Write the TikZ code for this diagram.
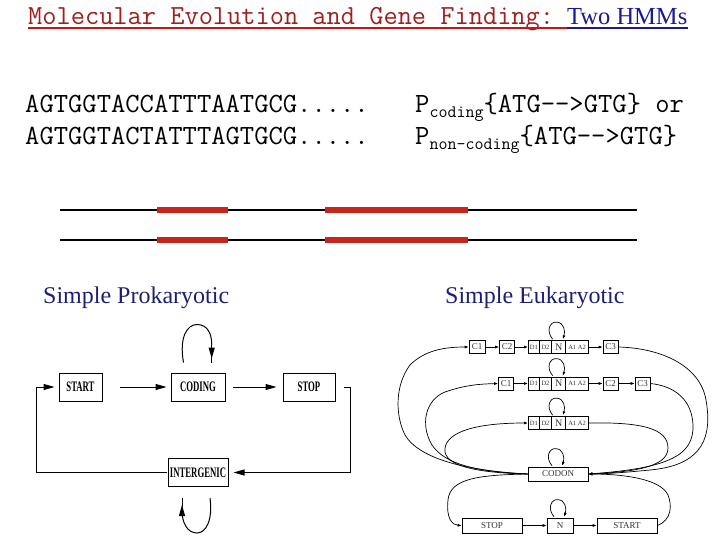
\documentclass[tikz,border=0pt]{standalone}
\usepackage{fontspec}
\usepackage{graphicx}
\setmainfont{Liberation Serif}
\usetikzlibrary{arrows.meta,calc}
\definecolor{tred}{RGB}{160,30,28}
\definecolor{ured}{RGB}{205,20,20}
\definecolor{tblue}{RGB}{26,26,150}
\definecolor{navy}{RGB}{30,30,115}
\definecolor{barred}{RGB}{200,38,26}
\newcommand\plab[1]{\scalebox{0.6}[1]{\fontsize{14.5}{14.5}\selectfont\bfseries #1}}
\newcommand\mtt{\fontsize{27.8}{30}\selectfont\ttfamily}
\newcommand\ttl{\fontsize{27.6}{30}\selectfont\ttfamily}
\newcommand\msub{\fontsize{17.5}{18}\selectfont\ttfamily}
\begin{document}
\begin{tikzpicture}[x=1pt,y=-1pt,
  txt/.style={inner sep=0pt,anchor=base west},
  pbox/.style={draw,line width=1pt,inner sep=0pt,minimum height=28pt},
  pline/.style={line width=1pt},
  parr/.style={line width=1pt,-{Triangle[length=11pt,width=6pt]}},
  ebox/.style={draw,line width=0.6pt,inner sep=0pt,minimum height=13pt,text=black!80,font=\fontsize{9}{9}\selectfont},
  sbox/.style={ebox,font=\fontsize{6.5}{6.5}\selectfont},
  eline/.style={line width=0.7pt},
  earr/.style={line width=0.7pt,-{Latex[length=4pt,width=3pt]}}
]
\useasboundingbox (0,0) rectangle (720,540);

% title
\node[txt,text=tred] (t1) at (28,25) {\ttl Molecular Evolution and Gene Finding:};
\node[txt,text=tblue] (t2) at (567,25) {\fontsize{24.5}{26}\selectfont Two HMMs};
\draw[ured,line width=2pt] ([yshift=-3pt]t1.base west) -- ([yshift=-3pt]t2.base west);
\draw[tblue,line width=2pt] ([yshift=-3pt]t2.base west) -- ([yshift=-3pt]t2.base east);

% sequences
\node[txt] (s1) at (25,113) {\mtt AGTGGTACCATTTAATGCG.....};
\node[txt] (s2) at (25,145) {\mtt AGTGGTACTATTTAGTGCG.....};
\node[txt] (p1) at (415,113) {\mtt P\raisebox{-5pt}{\msub coding}\{ATG-{}-{}>GTG\} or};
\node[txt] (p2) at (415,145) {\mtt P\raisebox{-5pt}{\msub non-coding}\{ATG-{}-{}>GTG\}};

% gene lines
\coordinate (l1a) at (60,210); \coordinate (l1b) at (637,210);
\coordinate (l2a) at (60,240); \coordinate (l2b) at (637,240);
\draw[line width=1.2pt] (l1a) -- (l1b);
\draw[line width=1.2pt] (l2a) -- (l2b);
\foreach \yy in {210,240}{
  \draw[barred,line width=6pt] (157,\yy) -- (228,\yy);
  \draw[barred,line width=6pt] (325,\yy) -- (468,\yy);
}

% headings
\node[txt,text=navy] (h1) at (43,303) {\fontsize{24}{26}\selectfont Simple Prokaryotic};
\node[txt,text=navy] (h2) at (445,303) {\fontsize{24}{26}\selectfont Simple Eukaryotic};

% prokaryotic HMM
\node[pbox,minimum width=43pt] (pstart) at (80.5,387) {\plab{START}};
\node[pbox,minimum width=54pt] (pcod) at (198,387) {\plab{CODING}};
\node[pbox,minimum width=52pt] (pstop) at (309,387) {\plab{STOP}};
\node[pbox,minimum width=60pt] (pint) at (198,472.5) {\plab{INTERGENIC}};
\draw[parr,shorten <=17pt,shorten >=4pt] (pstart.east) -- (pcod.west);
\draw[parr,shorten <=7pt,shorten >=6pt] (pcod.east) -- (pstop.west);
\draw[parr] ([xshift=8pt]pstop.east) -- ++(7,0) |- ([xshift=5pt]pint.east);
\draw[parr] ([xshift=-1pt]pint.west) -- (36,472.5) |- ([xshift=-4pt]pstart.west);
% self loops
\draw[pline] ($(pcod.north)+(-14.5,-10)$) .. controls ($(pcod.north)+(-19,-35)$) and ($(pcod.north)+(-11,-48)$) .. ($(pcod.north)+(-1,-48)$)
  .. controls ($(pcod.north)+(10,-48)$) and ($(pcod.north)+(14,-38)$) .. ($(pcod.north)+(13.7,-27)$);
\draw[parr] ($(pcod.north)+(13.7,-30)$) -- ($(pcod.north)+(13.7,-14)$);
\draw[pline] ($(pcod.north)+(13.7,-16)$) -- ($(pcod.north)+(13.7,-10)$);
\draw[pline] ($(pint.south)+(12,11)$) .. controls ($(pint.south)+(15,33)$) and ($(pint.south)+(8,46)$) .. ($(pint.south)+(-1,46)$)
  .. controls ($(pint.south)+(-11,46)$) and ($(pint.south)+(-16,35)$) .. ($(pint.south)+(-16,24)$);
\draw[parr] ($(pint.south)+(-16,27)$) -- ($(pint.south)+(-16,18)$);
\draw[pline] ($(pint.south)+(-16,20)$) -- ($(pint.south)+(-16,11)$);

% eukaryotic HMM
% row 1
\node[ebox,minimum width=16pt] (c11) at (477,347) {C1};
\node[ebox,minimum width=15pt] (c12) at (507,347) {C2};
\node[sbox,minimum width=11pt] (d11) at (533.8,347) {D1};
\node[sbox,minimum width=12.4pt] (d12) at (545.5,347) {D2};
\node[ebox,minimum width=14pt,font=\fontsize{10}{10}\selectfont] (n1) at (558.7,347) {N};
\node[sbox,minimum width=22.6pt] (a1) at (577,347) {A1 A2};
\node[ebox,minimum width=15pt] (c13) at (610.5,347) {C3};
% row 2
\node[ebox,minimum width=15pt] (c21) at (506,383.5) {C1};
\node[sbox,minimum width=11pt] (d21) at (533.8,383.5) {D1};
\node[sbox,minimum width=12.4pt] (d22) at (545.5,383.5) {D2};
\node[ebox,minimum width=14pt,font=\fontsize{10}{10}\selectfont] (n2) at (558.7,383.5) {N};
\node[sbox,minimum width=22.6pt] (a2) at (577,383.5) {A1 A2};
\node[ebox,minimum width=15pt] (c22) at (610.5,383.5) {C2};
\node[ebox,minimum width=15pt] (c23) at (642.5,383.5) {C3};
% row 3
\node[sbox,minimum width=11pt] (d31) at (533.8,423) {D1};
\node[sbox,minimum width=12.4pt] (d32) at (545.5,423) {D2};
\node[ebox,minimum width=14pt,font=\fontsize{10}{10}\selectfont] (n3) at (558.7,423) {N};
\node[sbox,minimum width=22.6pt] (a3) at (577,423) {A1 A2};
% codon and bottom row
\node[ebox,minimum width=60pt,minimum height=14pt] (codon) at (558,474) {CODON};
\node[ebox,minimum width=60pt,minimum height=15pt] (estop) at (492,525.5) {STOP};
\node[ebox,minimum width=26pt,minimum height=15pt] (nb) at (560,525.5) {N};
\node[ebox,minimum width=60pt,minimum height=15pt] (estart) at (627,525.5) {START};

% straight arrows
\draw[earr] (c11) -- (c12);
\draw[earr] (c12) -- (d11);
\draw[earr] (a1) -- (c13);
\draw[earr] (c21) -- (d21);
\draw[earr] (a2) -- (c22);
\draw[earr] (c22) -- (c23);
\draw[earr] (estop) -- (nb);
\draw[earr] (nb) -- (estart);

% self loops
\foreach \nd in {n1,n2,n3,codon,nb}{
  \draw[earr] ($(\nd.north)+(-6,-1)$) .. controls ($(\nd.north)+(-13,-9)$) and ($(\nd.north)+(-9,-19)$) .. ($(\nd.north)+(-2,-18)$)
    .. controls ($(\nd.north)+(5,-18)$) and ($(\nd.north)+(7,-9)$) .. ($(\nd.north)+(4,-1)$);
}

% left curves
\draw[earr] (codon.west) .. controls (470,471) and (420,460) .. (405,435)
  .. controls (395,415) and (395,385) .. (410,365)
  .. controls (425,350) and (445,347) .. (c11.west);
\draw[earr] (codon.west) .. controls (480,472) and (445,465) .. (432,445)
  .. controls (420,425) and (425,400) .. (445,392)
  .. controls (465,385) and (480,384) .. (c21.west);
\draw[earr] (codon.west) .. controls (485,473) and (448,468) .. (445,452)
  .. controls (443,434) and (470,423) .. (d31.west);
\draw[earr] (codon.west) .. controls (480,475) and (450,478) .. (448,500)
  .. controls (446,518) and (452,525) .. (estop.west);

% right curves
\draw[earr] (c13.east) .. controls (660,348) and (700,365) .. (706,400)
  .. controls (712,435) and (705,465) .. (650,470)
  .. controls (620,473) and (600,474) .. (codon.east);
\draw[earr] (c23.east) .. controls (675,386) and (692,400) .. (693,425)
  .. controls (694,455) and (670,468) .. (codon.east);
\draw[earr] (a3.east) .. controls (640,422) and (668,428) .. (668,448)
  .. controls (668,468) and (630,472) .. (codon.east);
\draw[earr] (estart.east) .. controls (672,520) and (672,505) .. (668,495)
  .. controls (660,478) and (620,474) .. (codon.east);
\end{tikzpicture}
\end{document}
